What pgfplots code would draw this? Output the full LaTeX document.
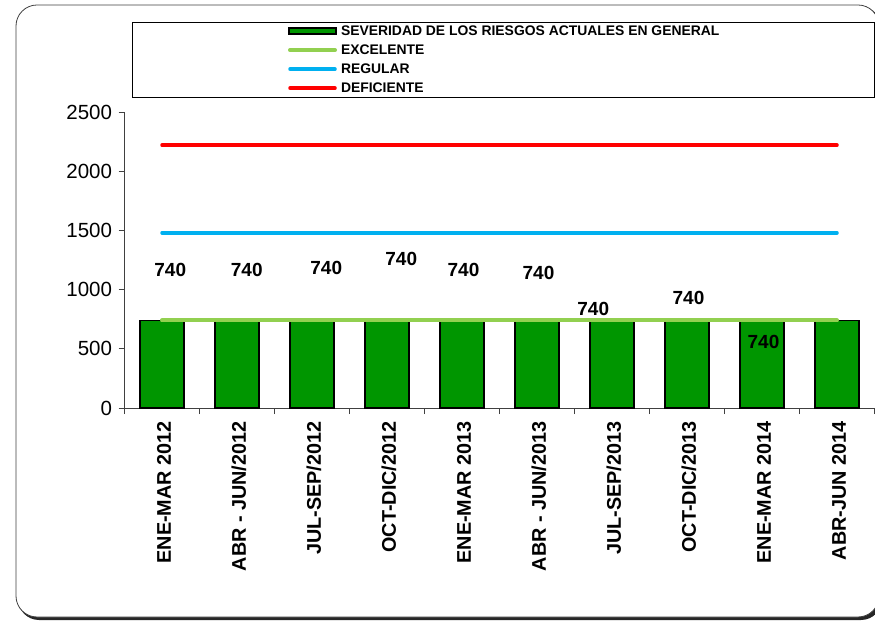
\documentclass[border=0pt]{standalone}
\usepackage{pgfplots}
\pgfplotsset{compat=1.18}
\usepackage{fontspec}
\setmainfont{Liberation Sans}
\definecolor{barGreen}{RGB}{0,150,0}
\definecolor{exGreen}{RGB}{146,208,80}
\definecolor{regBlue}{RGB}{0,176,240}
\definecolor{defRed}{RGB}{255,0,0}
\begin{document}
\begin{tikzpicture}[x=1pt,y=1pt]
\useasboundingbox (0,0) rectangle (875,621);
% outer frame with shadow
\fill[black!85, rounded corners=21pt] (18,1) rectangle (882,614);
\filldraw[fill=white, draw=black!75, line width=0.8pt, rounded corners=21pt] (16,4) rectangle (879,616);
% legend frame
\draw[black, line width=0.8pt] (132,599) rectangle (874,524);
\begin{axis}[
  at={(124.5pt,213pt)}, anchor=south west,
  scale only axis, width=750pt, height=296pt,
  xmin=-0.5, xmax=9.5, ymin=0, ymax=2500,
  axis x line*=bottom, axis y line*=left,
  axis line style={black!75, line width=0.8pt},
  tick align=outside,
  xtick={0,...,9},
  xticklabels={ENE-MAR 2012, ABR - JUN/2012, JUL-SEP/2012, OCT-DIC/2012, ENE-MAR 2013, ABR - JUN/2013, JUL-SEP/2013, OCT-DIC/2013, ENE-MAR 2014, ABR-JUN 2014},
  minor xtick={-0.5,0.5,...,9.5},
  major x tick style={draw=none},
  minor x tick style={black!75, line width=0.8pt},
  minor tick length=6pt,
  major tick length=6pt,
  y tick style={black!75, line width=0.8pt},
  ytick={0,500,1000,1500,2000,2500},
  /pgf/number format/assume math mode=true,
  /pgf/number format/set thousands separator={},
  yticklabel style={font=\fontsize{20.5}{22}\selectfont, xshift=-3pt},
  xticklabel style={rotate=90, anchor=east, font=\fontsize{19.8}{20}\selectfont\bfseries, xshift=-4pt, yshift=-2pt},
  legend style={at={(0.218,1.297)}, anchor=north west, draw=none, fill=none,
    inner sep=0pt, outer sep=0pt, row sep=5pt, column sep=0pt,
    font=\fontsize{13.9}{16}\selectfont\bfseries,
    nodes={inner xsep=4pt, inner ysep=1pt, text height=10pt, text depth=2pt, anchor=west}},
  legend cell align=left,
  clip=false,
]
\addplot[ybar, bar width=44pt, fill=barGreen, draw=black, line width=1.2pt,
  legend image code/.code={\draw[fill=barGreen,draw=black,line width=1.2pt] (1pt,-3pt) rectangle (48pt,3pt);}]
  coordinates {(0,740) (1,740) (2,740) (3,740) (4,740) (5,740) (6,740) (7,740) (8,740) (9,740)};
\addlegendentry{SEVERIDAD DE LOS RIESGOS ACTUALES EN GENERAL}
\addplot[exGreen, line width=4pt, line cap=round,
  legend image code/.code={\draw[exGreen,line width=4pt,line cap=round] (2pt,0pt) -- (47pt,0pt);}]
  coordinates {(0,740) (9,740)};
\addlegendentry{EXCELENTE}
\addplot[regBlue, line width=3.5pt, line cap=round,
  legend image code/.code={\draw[regBlue,line width=3.5pt,line cap=round] (2pt,0pt) -- (47pt,0pt);}]
  coordinates {(0,1480) (9,1480)};
\addlegendentry{REGULAR}
\addplot[defRed, line width=3.5pt, line cap=round,
  legend image code/.code={\draw[defRed,line width=3.5pt,line cap=round] (2pt,0pt) -- (47pt,0pt);}]
  coordinates {(0,2220) (9,2220)};
\addlegendentry{DEFICIENTE}
\addplot[draw=none, mark=none, forget plot,
  nodes near coords, point meta=explicit symbolic,
  every node near coord/.style={anchor=center, font=\fontsize{19}{20}\selectfont\bfseries, inner sep=0pt}]
  coordinates {(0.11,1166)[740] (1.13,1166)[740] (2.19,1182)[740] (3.19,1258)[740] (4.02,1166)[740] (5.02,1140)[740] (5.75,836)[740] (7.02,929)[740] (8.02,557)[740]};
\end{axis}
\end{tikzpicture}
\end{document}
